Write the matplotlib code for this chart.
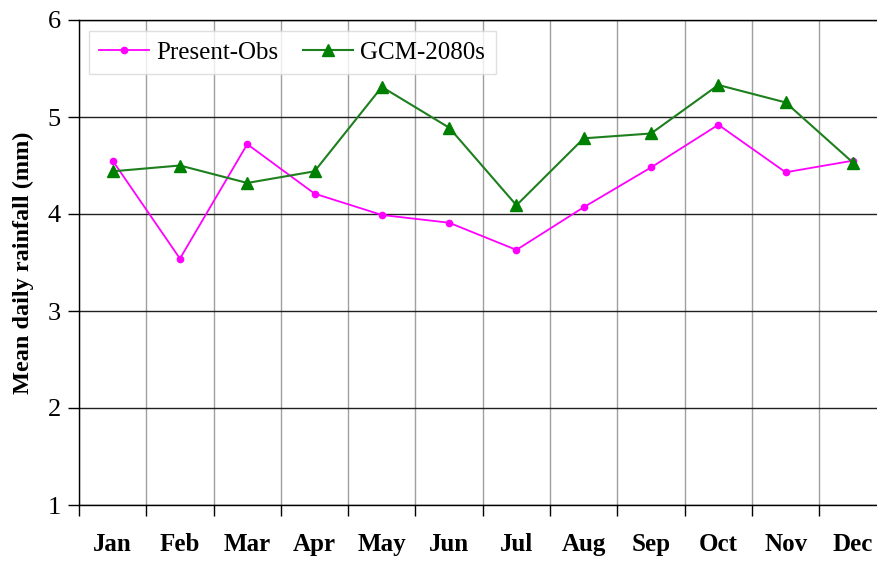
import matplotlib.pyplot as plt
import numpy as np

months = ['Jan', 'Feb', 'Mar', 'Apr', 'May', 'Jun', 'Jul', 'Aug', 'Sep', 'Oct', 'Nov', 'Dec']
present_obs = [4.55, 3.54, 4.72, 4.21, 3.99, 3.91, 3.63, 4.07, 4.48, 4.92, 4.43, 4.55]
gcm_2080s = [4.44, 4.50, 4.32, 4.44, 5.31, 4.89, 4.09, 4.78, 4.83, 5.33, 5.15, 4.53]

plt.rcParams['font.family'] = ['Liberation Serif', 'DejaVu Serif']

fig = plt.figure(figsize=(8.78, 5.63), dpi=100)
# axes run past the right edge of the figure, as in the reference
ax = fig.add_axes([79 / 878, 58 / 563, 807.6 / 878, 485 / 563])

x = np.arange(len(months))
ax.plot(x, present_obs, color='#FF00FF', lw=1.3, marker='o', ms=4.5,
        label='Present-Obs', zorder=3)
ax.plot(x, gcm_2080s, color='#1E7F1E', lw=1.5, marker='^', ms=8,
        mfc='#008000', mec='#008000', label='GCM-2080s', zorder=3)

ax.set_xlim(-0.5, len(months) - 0.5)
ax.set_ylim(1, 6)

ax.set_xticks(x)
ax.set_xticklabels(months, fontweight='bold', fontsize=18)
ax.set_xticks(np.arange(-0.5, len(months), 1), minor=True)
ax.tick_params(axis='x', which='major', length=0, pad=20)
ax.tick_params(axis='x', which='minor', length=8, width=1, direction='out')

ax.set_yticks([1, 2, 3, 4, 5, 6])
ax.tick_params(axis='y', which='major', length=8, width=1, labelsize=19, pad=5)

ax.grid(axis='x', which='minor', color='#A0A0A0', lw=1)
ax.grid(axis='y', which='major', color='#202020', lw=1)

for s in ['left', 'bottom', 'top']:
    ax.spines[s].set_color('black')
    ax.spines[s].set_linewidth(1)
ax.spines['right'].set_visible(False)

ax.set_ylabel('Mean daily rainfall (mm)', fontweight='bold', fontsize=17.5, labelpad=10)

leg = ax.legend(loc='upper left', ncol=2, fontsize=18, frameon=True, fancybox=False,
                bbox_to_anchor=(0.012, 0.978), borderpad=0.42, handlelength=2.0,
                columnspacing=0.96, handletextpad=0.3, borderaxespad=0)
leg.get_frame().set_edgecolor('#D8D8D8')
leg.get_frame().set_linewidth(1)

plt.savefig('out.png', dpi=100)
